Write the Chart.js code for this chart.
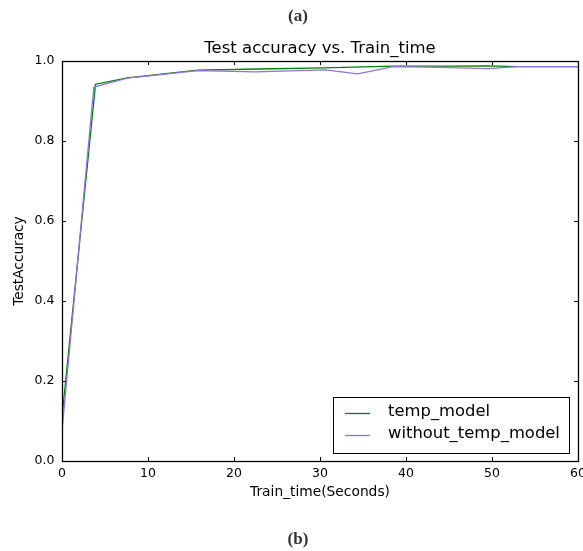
<!DOCTYPE html>
<html>
<head>
<meta charset="utf-8">
<script src="https://cdn.jsdelivr.net/npm/chart.js@4.4.0/dist/chart.umd.min.js"></script>
<style>
html,body{margin:0;padding:0;background:#fff;overflow:hidden}
#wrap{position:relative;width:583px;height:551px}
#c{position:absolute;left:0;top:0}
.cap{position:absolute;width:100px;height:22px;line-height:22px;text-align:center;font:bold 17px "Liberation Serif","Times New Roman",serif;color:#333}
</style>
</head>
<body>
<div id="wrap">
<canvas id="c" width="583" height="551"></canvas>
<div class="cap" style="left:248px;top:6px">(a)</div>
<div class="cap" style="left:248px;top:529px">(b)</div>
</div>
<script>
// ---- data ----
const seriesNames = ['temp_model', 'without_temp_model'];
const tempX = [0, 3.9, 7.6, 15.8, 23, 30.5, 38.5, 45, 49.5, 53, 60];
const tempY = [0.11, 0.942, 0.958, 0.977, 0.980, 0.983, 0.987, 0.987, 0.988, 0.986, 0.986];
const withoutX = [0, 3.7, 7.6, 15.8, 22.5, 30.6, 34.4, 38.5, 44, 49.5, 53, 60];
const withoutY = [0.075, 0.935, 0.957, 0.976, 0.973, 0.978, 0.968, 0.986, 0.984, 0.981, 0.986, 0.986];
const xTickValues = [0, 10, 20, 30, 40, 50, 60];
const yTickValues = [0.0, 0.2, 0.4, 0.6, 0.8, 1.0];
const chartTitle = 'Test accuracy vs. Train_time';
const xTitle = 'Train_time(Seconds)';
const yTitle = 'TestAccuracy';

const FONT = '"DejaVu Sans", sans-serif';
Chart.defaults.color = '#000';
Chart.defaults.font.family = FONT;

const toPts = (xs, ys) => xs.map((x, i) => ({x: x, y: ys[i]}));

// title centred over the plotting area (as matplotlib does)
const axesTitlePlugin = {
  id: 'axesTitle',
  afterDraw(chart) {
    const {ctx, chartArea: a} = chart;
    ctx.save();
    ctx.font = '16.5px ' + FONT;
    ctx.fillStyle = '#000';
    ctx.textAlign = 'center';
    ctx.textBaseline = 'middle';
    ctx.fillText(chartTitle, (a.left + a.right) / 2, a.top - 12);
    ctx.restore();
  }
};

const framePlugin = {
  id: 'frame',
  afterDatasetsDraw(chart) {
    const {ctx, chartArea: a, scales: {x, y}} = chart;
    ctx.save();
    ctx.strokeStyle = '#000';
    ctx.lineWidth = 1;
    ctx.beginPath();
    const L = 4;
    xTickValues.forEach(v => {
      const px = Math.round(x.getPixelForValue(v)) + 0.5;
      ctx.moveTo(px, a.bottom); ctx.lineTo(px, a.bottom - L);
      ctx.moveTo(px, a.top); ctx.lineTo(px, a.top + L);
    });
    yTickValues.forEach(v => {
      const py = Math.round(y.getPixelForValue(v)) + 0.5;
      ctx.moveTo(a.left, py); ctx.lineTo(a.left + L, py);
      ctx.moveTo(a.right, py); ctx.lineTo(a.right - L, py);
    });
    ctx.stroke();
    ctx.lineWidth = 1.3;
    ctx.strokeRect(Math.round(a.left) + 0.5, Math.round(a.top) + 0.5, Math.round(a.right - a.left), Math.round(a.bottom - a.top));
    ctx.restore();
  }
};

const legendPlugin = {
  id: 'boxLegend',
  afterDraw(chart) {
    const {ctx, chartArea: a} = chart;
    const w = 236, h = 56;
    const right = a.right - 9, bottom = a.bottom - 8;
    const left = right - w, top = bottom - h;
    ctx.save();
    ctx.fillStyle = '#fff';
    ctx.fillRect(left, top, w, h);
    ctx.strokeStyle = '#000';
    ctx.lineWidth = 1;
    ctx.strokeRect(Math.round(left) + 0.5, Math.round(top) + 0.5, w, h);
    ctx.font = '16.4px ' + FONT;
    ctx.textBaseline = 'middle';
    ctx.textAlign = 'left';
    chart.data.datasets.forEach((ds, i) => {
      const cy = top + 16 + i * 22;
      ctx.strokeStyle = ds.borderColor;
      ctx.lineWidth = 1.3;
      ctx.beginPath();
      ctx.moveTo(left + 12, cy + 0.5);
      ctx.lineTo(left + 37, cy + 0.5);
      ctx.stroke();
      ctx.fillStyle = '#000';
      ctx.fillText(ds.label, left + 55, cy - 1);
    });
    ctx.restore();
  }
};

new Chart(document.getElementById('c'), {
  type: 'line',
  data: {
    datasets: [
      {label: seriesNames[0], data: toPts(tempX, tempY), borderColor: '#008000', backgroundColor: '#008000', borderWidth: 1.3, pointRadius: 0, tension: 0, order: 2},
      {label: seriesNames[1], data: toPts(withoutX, withoutY), borderColor: '#9370DB', backgroundColor: '#9370DB', borderWidth: 1.3, pointRadius: 0, tension: 0, order: 1}
    ]
  },
  options: {
    responsive: false,
    animation: false,
    events: [],
    layout: {padding: {left: 0, right: 5, top: 61, bottom: 0}},
    plugins: {
      legend: {display: false},
      tooltip: {enabled: false},
      title: {display: false}
    },
    scales: {
      x: {
        type: 'linear', min: 0, max: 60,
        grid: {display: false, drawTicks: false},
        border: {display: false},
        ticks: {stepSize: 10, padding: 5, font: {size: 12.5}, maxRotation: 0, autoSkip: false},
        afterBuildTicks: s => { s.ticks = xTickValues.map(v => ({value: v})); },
        title: {display: true, text: xTitle, font: {size: 13.8}, padding: {top: 0, bottom: 50.5}},
        afterFit: s => { s.height = 90; s.paddingLeft = 0; s.paddingRight = 0; }
      },
      y: {
        type: 'linear', min: 0, max: 1,
        grid: {display: false, drawTicks: false},
        border: {display: false},
        ticks: {stepSize: 0.2, padding: 7.5, font: {size: 12.5}, callback: v => Number(v).toFixed(1)},
        afterBuildTicks: s => { s.ticks = yTickValues.map(v => ({value: v})); },
        title: {display: true, text: yTitle, font: {size: 13.7}, padding: {top: 11, bottom: 0}},
        afterFit: s => { s.width = 62; s.paddingTop = 0; s.paddingBottom = 0; }
      }
    }
  },
  plugins: [framePlugin, legendPlugin, axesTitlePlugin]
});
</script>
</body>
</html>
